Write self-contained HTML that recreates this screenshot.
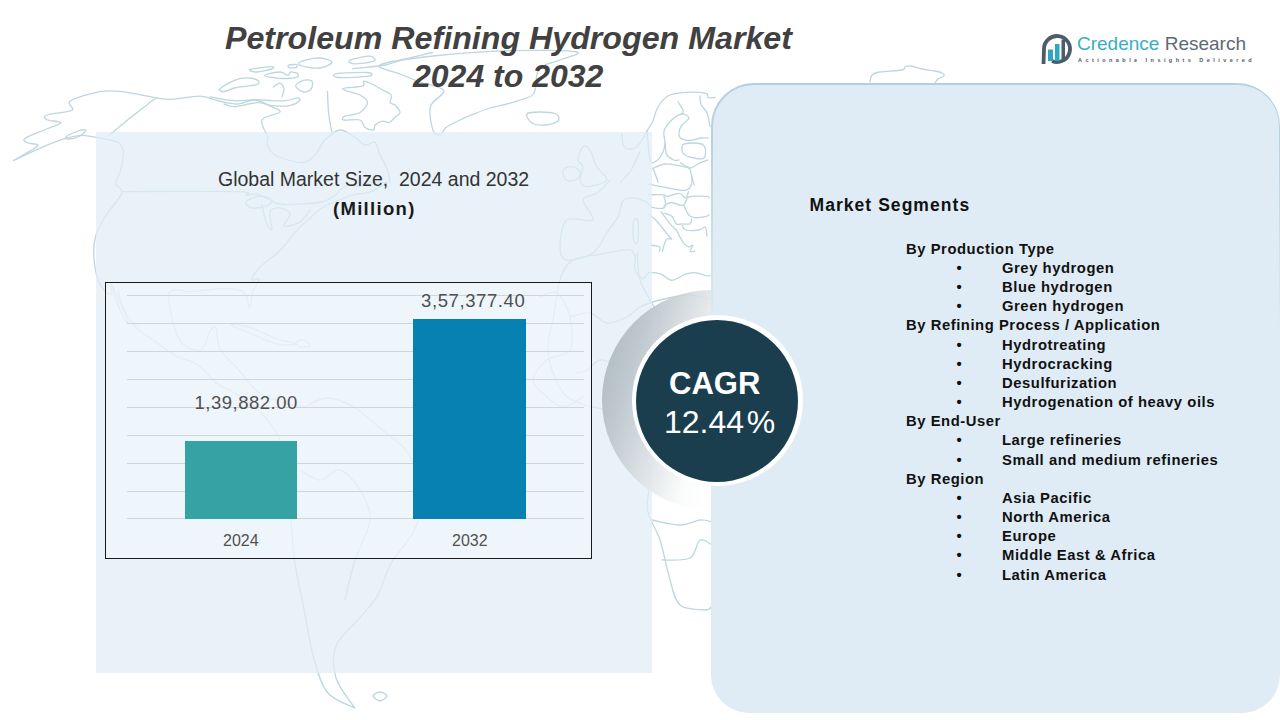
<!DOCTYPE html>
<html>
<head>
<meta charset="utf-8">
<style>
html,body{margin:0;padding:0;}
body{width:1280px;height:720px;position:relative;overflow:hidden;background:#ffffff;font-family:"Liberation Sans",sans-serif;}
.abs{position:absolute;white-space:nowrap;}
#leftpanel{position:absolute;left:96px;top:132px;width:556px;height:541px;background:rgba(225,237,246,0.72);}
#rightpanel{position:absolute;left:711px;top:82.5px;width:569px;height:630px;background:linear-gradient(to bottom,#b3cfe1 0%,#bad4e5 12%,#dfecf5 40%);border-radius:43px 43px 38px 38px;}
#rpin{position:absolute;left:1.5px;top:2px;right:1.5px;bottom:0;background:#dfecf5;border-radius:41px 41px 38px 38px;}
#map{position:absolute;left:0;top:0;}
.title{font-weight:bold;font-style:italic;color:#414141;font-size:31px;}
.seg{font-weight:bold;color:#111;font-size:14.8px;letter-spacing:0.55px;}
.chartbox{position:absolute;left:105px;top:282px;width:487px;height:277px;border:1.5px solid #1a1a1a;box-sizing:border-box;background:rgba(255,255,255,0.3);}
.grid{position:absolute;left:127px;width:457px;height:1px;background:#cfd6da;}
.bar{position:absolute;}
.lbl{color:#505050;font-size:18px;}
</style>
</head>
<body>
<svg id="map" width="1280" height="720" style="position:absolute;left:0;top:0" fill="none" stroke="#bdd6df" stroke-width="1.3" stroke-linejoin="round" stroke-linecap="round">
<path d="M13.8 160.3 C17.7 157.9 35.1 148.9 37.5 146.0 C39.9 143.1 30.1 144.3 28.0 143.0 C25.9 141.7 21.9 140.7 25.0 138.4 C28.1 136.1 40.9 131.6 46.9 129.0 C52.9 126.4 61.0 124.3 61.0 122.8 C61.0 121.2 49.2 121.0 46.9 119.7 C44.5 118.4 42.7 116.6 46.9 115.0 C51.1 113.4 68.0 112.6 71.9 110.3 C75.8 108.0 65.6 104.1 70.3 101.0 C75.0 97.9 91.4 93.2 100.0 91.6 C108.6 90.0 112.6 90.6 121.9 91.6 C131.2 92.6 147.7 96.5 156.0 97.8 C164.3 99.1 164.7 99.7 172.0 99.4 C179.3 99.1 192.2 96.0 200.0 96.2 C207.8 96.5 212.5 99.7 218.8 101.0 C225.0 102.3 231.5 104.2 237.5 104.0 C243.5 103.8 249.6 99.7 255.0 100.0 C260.4 100.3 265.8 104.0 270.0 106.0 C274.2 108.0 281.3 109.7 280.0 112.0 C278.7 114.3 264.0 115.8 262.0 120.0 C260.0 124.2 267.0 134.2 268.0 137.0"/>
<path d="M13.8 160.3 C18.2 158.2 32.0 151.5 40.6 147.8 C49.2 144.2 58.9 140.5 65.6 138.4 C72.3 136.3 76.3 135.6 81.0 135.3 C85.7 135.1 89.0 136.1 93.8 136.9 C98.5 137.7 105.2 139.0 109.4 140.0 C113.6 141.0 116.4 140.9 118.8 143.0 C121.1 145.1 123.1 147.8 123.4 152.5 C123.7 157.2 121.6 166.0 120.3 171.2 C119.0 176.5 115.3 180.1 115.6 183.8 C115.9 187.4 123.5 187.8 121.9 193.0 C120.3 198.2 110.6 208.0 106.2 215.0 C101.9 222.0 98.1 228.3 96.0 235.0 C93.9 241.7 93.4 247.5 93.8 255.0 C94.1 262.5 96.0 273.8 98.0 280.0 C100.0 286.2 103.7 289.5 106.0 292.0 C108.3 294.5 111.0 294.5 112.0 295.0"/>
<path d="M156.0 97.8 C151.7 101.2 137.8 111.8 130.0 118.0 C122.2 124.2 112.8 132.4 109.4 135.3"/>
<path d="M66.0 137.0 C67.3 135.7 74.7 132.2 78.0 131.0 C81.3 129.8 85.7 129.2 86.0 130.0 C86.3 130.8 82.7 134.5 80.0 136.0 C77.3 137.5 72.3 138.8 70.0 139.0 C67.7 139.2 64.7 138.3 66.0 137.0Z"/>
<path d="M121.9 191.6 C141.2 191.6 216.8 191.0 237.5 191.6 C258.2 192.2 242.9 194.6 246.0 195.0 C249.1 195.4 252.3 193.3 256.0 194.0 C259.7 194.7 264.0 197.3 268.0 199.0 C272.0 200.7 274.7 203.2 280.0 204.0 C285.3 204.8 293.0 204.3 300.0 204.0 C307.0 203.7 316.3 203.3 322.0 202.0 C327.7 200.7 330.0 198.7 334.0 196.0 C338.0 193.3 341.7 187.7 346.0 186.0 C350.3 184.3 355.7 186.7 360.0 186.0 C364.3 185.3 367.4 182.6 372.0 182.0 C376.6 181.4 384.9 182.4 387.5 182.5"/>
<path d="M246.0 202.0 C247.3 200.0 255.7 196.3 260.0 196.0 C264.3 195.7 271.0 198.3 272.0 200.0 C273.0 201.7 269.3 204.7 266.0 206.0 C262.7 207.3 255.3 208.7 252.0 208.0 C248.7 207.3 244.7 204.0 246.0 202.0Z"/>
<path d="M262.0 205.0 C262.7 207.8 264.3 217.8 266.0 222.0 C267.7 226.2 271.3 231.7 272.0 230.0 C272.7 228.3 268.7 215.7 270.0 212.0 C271.3 208.3 276.7 207.7 280.0 208.0 C283.3 208.3 289.3 211.0 290.0 214.0 C290.7 217.0 282.3 224.7 284.0 226.0 C285.7 227.3 295.7 224.7 300.0 222.0 C304.3 219.3 308.3 212.0 310.0 210.0"/>
<path d="M268.0 137.0 C267.9 138.3 266.8 142.4 267.5 145.0 C268.2 147.6 269.9 150.4 272.0 152.5 C274.1 154.6 274.9 155.8 280.0 157.5 C285.1 159.2 296.7 162.9 302.5 162.5 C308.3 162.1 311.2 158.8 315.0 155.0 C318.8 151.2 320.8 144.2 325.0 140.0 C329.2 135.8 335.0 130.4 340.0 130.0 C345.0 129.6 350.8 135.0 355.0 137.5 C359.2 140.0 361.7 144.2 365.0 145.0 C368.3 145.8 372.5 140.8 375.0 142.5 C377.5 144.2 377.9 150.4 380.0 155.0 C382.1 159.6 385.8 165.4 387.5 170.0 C389.2 174.6 389.6 180.4 390.0 182.5"/>
<path d="M387.5 182.5 C384.6 184.1 375.8 189.9 370.0 192.0 C364.2 194.1 358.3 193.3 352.5 195.0 C346.7 196.7 340.0 199.9 335.0 202.0 C330.0 204.1 326.7 204.8 322.5 207.5 C318.3 210.2 313.3 215.1 310.0 218.0 C306.7 220.9 305.5 222.0 302.5 225.0 C299.5 228.0 294.9 232.7 292.0 236.0 C289.1 239.3 287.8 241.8 285.0 245.0 C282.2 248.2 278.3 252.1 275.0 255.0 C271.7 257.9 268.2 259.7 265.0 262.5 C261.8 265.3 258.2 269.1 256.0 272.0 C253.8 274.9 251.5 278.8 252.0 280.0 C252.5 281.2 258.9 277.4 259.0 279.4 C259.1 281.3 254.4 286.8 252.8 291.7 C251.2 296.6 251.2 308.5 249.7 308.5 C248.2 308.5 248.2 295.0 243.6 291.7 C239.0 288.4 230.7 288.6 222.0 288.6 C213.3 288.6 200.4 291.2 191.7 291.7 C183.0 292.2 173.1 286.6 170.0 291.7 C166.9 296.8 170.9 313.4 173.0 322.0 C175.1 330.6 177.8 338.9 182.5 343.6 C187.2 348.3 196.4 352.1 201.0 350.0 C205.6 347.9 207.5 334.7 210.0 331.0 C212.5 327.3 214.5 325.4 216.0 328.0 C217.5 330.6 217.0 341.4 219.0 346.6 C221.0 351.8 225.5 355.9 228.0 359.0 C230.5 362.1 231.5 362.3 234.0 365.0 C236.5 367.7 239.0 370.5 243.0 375.0 C247.0 379.5 252.7 387.8 258.0 392.0 C263.3 396.2 267.3 397.4 275.0 400.0 C282.7 402.6 299.2 406.2 304.0 407.5"/>
<path d="M112.0 295.0 C112.0 293.4 110.0 283.0 112.0 285.5 C114.0 288.0 119.9 302.9 124.0 310.0 C128.1 317.1 131.4 322.7 136.7 328.0 C142.0 333.3 149.4 337.3 156.0 342.0 C162.6 346.7 169.0 352.2 176.0 356.0 C183.0 359.8 191.3 360.5 198.0 365.0 C204.7 369.5 211.0 378.9 216.0 383.0 C221.0 387.1 223.4 386.8 228.0 389.4 C232.6 392.0 238.6 395.2 243.6 398.6 C248.6 402.0 252.8 404.8 258.0 410.0 C263.2 415.2 270.3 421.7 275.0 430.0 C279.7 438.3 284.2 450.8 286.0 460.0 C287.8 469.2 285.2 475.9 286.0 485.5 C286.8 495.1 289.0 504.6 290.5 517.6 C292.0 530.6 292.8 548.3 295.0 563.5 C297.2 578.7 301.0 593.8 304.0 609.0 C307.0 624.2 309.2 641.2 313.0 655.0 C316.8 668.8 320.1 683.2 327.0 692.0 C333.9 700.8 350.1 705.3 354.7 708.0"/>
<path d="M112.0 285.5 C112.7 287.9 114.0 294.6 116.0 300.0 C118.0 305.4 122.0 314.3 124.0 318.0 C126.0 321.7 128.3 324.2 128.0 322.0 C127.7 319.8 123.7 310.3 122.0 305.0 C120.3 299.7 118.7 292.5 118.0 290.0"/>
<path d="M354.7 708.0 C351.6 703.0 339.1 688.3 336.0 678.0 C332.9 667.7 332.2 655.9 336.0 646.0 C339.8 636.1 352.1 626.9 359.0 618.5 C365.9 610.1 372.3 604.8 377.6 595.6 C382.9 586.4 384.9 574.3 391.0 563.5 C397.1 552.7 409.2 540.8 414.0 531.0 C418.8 521.2 419.8 515.2 420.0 505.0 C420.2 494.8 417.5 479.3 415.0 470.0 C412.5 460.7 411.2 456.3 405.0 449.0 C398.8 441.7 386.0 432.9 377.6 426.0 C369.2 419.1 363.1 412.2 354.7 407.5 C346.3 402.8 335.4 398.0 327.0 398.0 C318.6 398.0 307.8 405.9 304.0 407.5"/>
<path d="M300.0 470.0 C303.3 471.7 313.3 480.0 320.0 480.0 C326.7 480.0 333.3 468.3 340.0 470.0 C346.7 471.7 355.0 481.7 360.0 490.0 C365.0 498.3 370.8 508.3 370.0 520.0 C369.2 531.7 359.2 546.7 355.0 560.0 C350.8 573.3 346.7 593.3 345.0 600.0"/>
<path d="M373.0 696.0 C373.0 694.5 377.7 692.0 380.0 692.0 C382.3 692.0 387.0 694.5 387.0 696.0 C387.0 697.5 382.3 701.0 380.0 701.0 C377.7 701.0 373.0 697.5 373.0 696.0Z"/>
<path d="M231.0 325.0 C230.2 323.8 240.3 325.0 245.0 326.0 C249.7 327.0 254.5 329.2 259.0 331.0 C263.5 332.8 268.0 335.4 272.0 337.0 C276.0 338.6 279.1 339.4 283.0 340.5 C286.9 341.6 295.2 342.9 295.5 343.6 C295.8 344.4 289.2 345.3 285.0 345.0 C280.8 344.7 275.8 344.0 270.0 342.0 C264.2 340.0 256.5 335.8 250.0 333.0 C243.5 330.2 231.8 326.2 231.0 325.0Z"/>
<path d="M296.0 342.0 C296.7 340.8 301.7 339.3 304.0 340.0 C306.3 340.7 310.7 344.8 310.0 346.0 C309.3 347.2 302.3 347.7 300.0 347.0 C297.7 346.3 295.3 343.2 296.0 342.0Z"/>
<path d="M219.7 89.0 C221.3 87.1 229.8 82.1 234.3 80.3 C238.9 78.5 243.1 77.9 247.0 77.9 C250.9 77.9 255.9 79.2 257.7 80.3 C259.5 81.3 259.5 83.2 257.7 84.2 C255.9 85.2 250.9 85.5 247.0 86.1 C243.1 86.7 238.0 87.1 234.3 88.0 C230.6 88.9 227.0 91.3 224.6 91.5 C222.2 91.7 218.1 90.9 219.7 89.0Z"/>
<path d="M249.9 69.6 C252.2 68.7 266.6 66.9 270.3 66.7 C274.0 66.5 274.6 67.7 272.3 68.6 C270.0 69.5 260.4 71.8 256.7 72.0 C253.0 72.2 247.6 70.5 249.9 69.6Z"/>
<path d="M264.5 75.4 C264.5 74.4 276.1 72.0 280.0 72.0 C283.9 72.0 286.0 75.4 287.8 75.4 C289.6 75.4 289.1 72.3 290.7 72.0 C292.3 71.7 296.5 72.6 297.5 73.5 C298.5 74.4 299.5 76.6 296.6 77.4 C293.7 78.2 285.4 78.6 280.0 78.3 C274.6 78.0 264.5 76.5 264.5 75.4Z"/>
<path d="M288.8 65.0 C290.1 64.5 295.4 64.3 296.6 64.7 C297.8 65.1 297.3 67.1 296.0 67.6 C294.7 68.1 290.2 68.0 289.0 67.6 C287.8 67.2 287.5 65.5 288.8 65.0Z"/>
<path d="M210.0 96.8 C214.1 97.5 226.5 100.2 234.3 100.7 C242.1 101.2 250.4 99.7 256.7 99.7 C263.0 99.7 267.4 100.5 272.3 100.7 C277.2 100.9 281.7 101.2 285.9 100.7 C290.1 100.2 295.2 97.8 297.5 97.8 C299.8 97.8 300.8 99.4 299.5 100.7 C298.2 102.0 294.3 104.8 289.8 105.6 C285.3 106.4 277.8 106.1 272.3 105.6 C266.8 105.1 263.0 102.5 256.7 102.7 C250.4 102.9 239.8 106.4 234.3 106.6 C228.9 106.8 225.7 104.4 224.0 104.0"/>
<path d="M295.6 86.1 C295.6 84.1 300.7 81.1 303.4 80.3 C306.1 79.5 310.7 79.8 312.0 81.3 C313.3 82.8 312.4 87.2 311.0 89.0 C309.6 90.8 306.0 92.5 303.4 92.0 C300.8 91.5 295.6 88.0 295.6 86.1Z"/>
<path d="M273.2 87.1 C274.3 86.4 278.2 82.9 280.0 83.2 C281.8 83.5 283.7 86.7 284.0 89.0 C284.3 91.3 282.3 95.5 282.0 96.8"/>
<path d="M342.5 88.8 C342.1 90.2 355.8 92.7 360.0 95.0 C364.2 97.3 367.5 99.6 367.5 102.5 C367.5 105.4 363.8 110.2 360.0 112.5 C356.2 114.8 347.7 115.0 345.0 116.2 C342.3 117.5 341.2 119.4 343.8 120.0 C346.2 120.6 356.5 118.8 360.0 120.0 C363.5 121.2 362.7 125.8 365.0 127.5 C367.3 129.2 372.1 130.4 373.8 130.0 C375.4 129.6 373.5 126.5 375.0 125.0 C376.5 123.5 380.2 121.7 382.5 121.2 C384.8 120.8 386.7 123.1 388.8 122.5 C390.8 121.9 393.1 119.2 395.0 117.5 C396.9 115.8 400.0 114.6 400.0 112.5 C400.0 110.4 396.7 106.7 395.0 105.0 C393.3 103.3 390.6 104.2 390.0 102.5 C389.4 100.8 392.5 97.1 391.2 95.0 C390.0 92.9 385.4 91.7 382.5 90.0 C379.6 88.3 376.9 86.5 373.8 85.0 C370.6 83.5 365.6 81.0 363.8 81.2 C361.9 81.5 366.0 85.0 362.5 86.2 C359.0 87.5 342.9 87.3 342.5 88.8Z"/>
<path d="M350.0 60.0 C352.7 58.8 366.0 56.0 370.0 56.2 C374.0 56.5 376.5 60.0 373.8 61.2 C371.0 62.5 357.7 64.0 353.8 63.8 C349.8 63.5 347.3 61.2 350.0 60.0Z"/>
<path d="M352.5 68.8 C357.9 68.1 376.9 66.5 385.0 65.0 C393.1 63.5 393.3 62.1 401.2 60.0 C409.2 57.9 427.3 53.8 432.5 52.5"/>
<path d="M336.2 73.8 C341.0 72.9 362.1 72.1 367.5 72.5 C372.9 72.9 373.5 75.4 368.8 76.2 C364.0 77.1 344.2 77.9 338.8 77.5 C333.3 77.1 331.5 74.6 336.2 73.8Z"/>
<path d="M300.0 62.0 C302.7 60.7 312.7 58.0 318.0 58.0 C323.3 58.0 331.7 60.3 332.0 62.0 C332.3 63.7 325.0 67.3 320.0 68.0 C315.0 68.7 305.3 67.0 302.0 66.0 C298.7 65.0 297.3 63.3 300.0 62.0Z"/>
<path d="M327.5 91.2 C327.7 95.2 327.9 107.7 328.8 115.0 C329.6 122.3 331.9 131.7 332.5 135.0"/>
<path d="M380.0 65.0 C385.5 62.0 410.8 58.4 433.0 56.0 C455.2 53.6 489.1 51.3 513.0 50.6 C536.9 49.9 568.7 50.4 576.5 52.0 C584.3 53.6 566.2 57.2 560.0 60.0 C553.8 62.8 543.3 63.5 539.0 69.0 C534.7 74.5 537.2 87.8 534.0 93.0 C530.8 98.2 524.4 98.2 520.0 100.0 C515.6 101.8 512.5 102.4 507.5 103.8 C502.5 105.1 495.8 106.2 490.0 108.0 C484.2 109.8 478.0 112.4 473.0 114.4 C468.0 116.4 464.5 117.8 460.0 120.0 C455.5 122.2 449.3 125.1 446.0 127.6 C442.7 130.1 442.2 134.6 440.0 135.0 C437.8 135.4 434.6 135.1 433.0 130.3 C431.4 125.5 428.7 113.0 430.5 106.4 C432.3 99.8 445.5 94.6 443.8 90.5 C442.0 86.4 427.3 84.8 420.0 82.0 C412.7 79.2 406.7 76.8 400.0 74.0 C393.3 71.2 374.5 68.0 380.0 65.0Z"/>
<path d="M527.0 114.0 C528.3 112.2 535.2 112.0 540.0 112.0 C544.8 112.0 553.0 112.5 556.0 114.0 C559.0 115.5 559.8 119.2 558.0 121.0 C556.2 122.8 549.3 124.7 545.0 125.0 C540.7 125.3 535.0 124.8 532.0 123.0 C529.0 121.2 525.7 115.8 527.0 114.0Z"/>
<path d="M583.0 146.7 C585.0 145.0 587.7 146.7 590.0 150.0 C592.3 153.3 593.9 161.7 596.7 166.7 C599.5 171.7 608.4 176.7 606.7 180.0 C605.0 183.3 591.2 186.7 586.7 186.7 C582.2 186.7 580.6 183.3 580.0 180.0 C579.4 176.7 583.3 170.0 583.0 166.7 C582.7 163.4 578.0 163.3 578.0 160.0 C578.0 156.7 581.0 148.4 583.0 146.7Z"/>
<path d="M563.0 170.0 C564.0 167.8 569.2 166.4 572.0 166.7 C574.8 167.0 579.3 169.8 580.0 172.0 C580.7 174.2 578.3 178.7 576.0 180.0 C573.7 181.3 568.2 181.7 566.0 180.0 C563.8 178.3 562.0 172.2 563.0 170.0Z"/>
<path d="M540.0 297.0 C542.8 296.3 552.0 289.7 557.0 293.0 C562.0 296.3 567.8 307.5 570.0 317.0 C572.2 326.5 573.8 342.8 570.0 350.0 C566.2 357.2 553.2 355.0 547.0 360.0 C540.8 365.0 533.0 373.8 533.0 380.0 C533.0 386.2 542.0 392.5 547.0 397.0 C552.0 401.5 557.0 407.0 563.0 407.0 C569.0 407.0 579.7 398.7 583.0 397.0"/>
<path d="M570.0 317.0 C573.3 316.3 583.8 312.0 590.0 313.0 C596.2 314.0 600.8 322.3 607.0 323.0 C613.2 323.7 621.5 319.7 627.0 317.0 C632.5 314.3 634.5 309.8 640.0 307.0 C645.5 304.2 651.7 302.0 660.0 300.0 C668.3 298.0 681.3 295.0 690.0 295.0 C698.7 295.0 708.3 299.2 712.0 300.0"/>
<path d="M577.0 373.0 C578.7 372.5 583.2 372.2 587.0 370.0 C590.8 367.8 595.3 360.8 600.0 360.0 C604.7 359.2 608.3 361.7 615.0 365.0 C621.7 368.3 635.8 377.5 640.0 380.0"/>
<path d="M637.0 253.0 C637.5 257.5 637.8 272.2 640.0 280.0 C642.2 287.8 646.7 293.3 650.0 300.0 C653.3 306.7 659.2 312.5 660.0 320.0 C660.8 327.5 655.8 340.8 655.0 345.0"/>
<path d="M622.0 133.6 C622.3 135.7 621.9 143.4 623.6 146.0 C625.3 148.6 629.3 149.5 632.0 149.0 C634.7 148.5 637.5 146.0 640.0 143.0 C642.5 140.0 644.9 134.7 647.0 131.0 C649.1 127.3 651.0 125.0 652.8 121.0 C654.6 117.0 655.5 111.2 658.0 107.0 C660.5 102.8 663.8 98.4 668.0 96.0 C672.2 93.6 676.7 93.0 683.0 92.6 C689.3 92.1 701.4 92.5 705.6 93.3 C709.8 94.1 706.4 96.8 708.0 97.5 C709.6 98.2 713.8 97.5 715.0 97.5"/>
<path d="M647.0 131.0 C647.5 135.8 648.6 154.9 650.0 160.0 C651.4 165.1 653.5 162.6 655.6 161.4 C657.7 160.2 660.9 156.1 662.5 153.0 C664.1 149.9 664.8 146.7 665.0 143.0 C665.2 139.3 662.8 134.9 664.0 131.0 C665.2 127.1 669.0 122.5 672.0 119.7 C675.0 116.9 679.2 114.3 682.0 114.0 C684.8 113.7 689.0 116.2 689.0 118.0 C689.0 119.8 683.7 122.7 682.0 125.0 C680.3 127.3 679.2 129.8 679.0 132.0 C678.8 134.2 678.7 136.6 680.5 138.0 C682.3 139.4 686.6 140.5 690.0 140.5 C693.4 140.5 698.0 138.4 701.0 138.0 C704.0 137.6 706.8 138.0 708.0 138.0"/>
<path d="M678.0 101.7 C678.8 103.1 682.3 108.0 683.0 110.0 C683.7 112.0 682.2 113.3 682.0 114.0"/>
<path d="M700.0 96.0 C700.2 97.4 699.8 101.6 701.0 104.4 C702.2 107.2 705.5 109.1 707.0 112.8 C708.5 116.5 709.5 124.4 710.0 126.7"/>
<path d="M665.0 143.0 C665.3 144.9 665.3 151.6 666.7 154.4 C668.1 157.2 671.6 159.1 673.6 160.0 C675.6 160.9 678.1 160.0 679.0 160.0"/>
<path d="M683.0 144.7 C684.8 143.0 690.7 143.0 694.0 143.0 C697.3 143.0 701.1 143.2 703.0 144.7 C704.9 146.1 705.6 149.4 705.6 151.7 C705.6 154.0 705.6 157.7 703.0 158.6 C700.4 159.5 693.3 157.9 690.0 157.0 C686.7 156.1 684.2 155.1 683.0 153.0 C681.8 150.9 681.2 146.4 683.0 144.7Z"/>
<path d="M680.5 162.8 C682.1 163.7 686.8 168.0 690.0 168.0 C693.2 168.0 697.0 164.1 700.0 162.8 C703.0 161.5 706.7 160.5 708.0 160.0"/>
<path d="M652.8 168.3 C653.3 169.4 654.7 172.7 655.6 175.0 C656.5 177.3 657.6 180.8 658.0 182.0"/>
<path d="M652.8 168.3 C654.8 167.6 660.8 164.4 665.0 164.0 C669.2 163.6 674.0 164.9 678.0 165.6 C682.0 166.3 686.7 166.5 689.0 168.3 C691.3 170.2 690.8 173.9 691.7 176.7 C692.6 179.5 694.0 183.6 694.4 185.0"/>
<path d="M640.0 151.7 C639.3 153.1 637.6 156.8 636.0 160.0 C634.4 163.2 633.1 167.3 630.6 171.0 C628.1 174.7 622.4 180.2 620.8 182.0"/>
<path d="M648.9 184.2 C651.4 184.7 660.2 186.4 664.0 187.2 C667.8 187.9 668.2 188.2 671.8 188.7 C675.4 189.2 682.2 191.1 685.5 190.3 C688.8 189.6 690.6 186.8 691.6 184.2 C692.6 181.6 691.6 176.5 691.6 175.0"/>
<path d="M648.9 194.8 C651.4 194.8 661.0 194.5 664.0 194.8 C667.0 195.1 664.4 196.7 667.0 196.4 C669.6 196.2 676.3 193.0 679.4 193.3 C682.5 193.6 684.0 198.2 685.5 198.0 C687.0 197.8 688.0 192.8 688.5 191.8"/>
<path d="M687.0 198.0 C687.8 197.7 688.3 196.7 691.6 196.4 C694.9 196.1 704.0 196.1 706.9 196.4 C709.8 196.7 708.6 197.7 709.0 198.0"/>
<path d="M650.4 207.0 C652.2 207.3 658.5 208.8 661.0 208.6 C663.5 208.3 665.1 207.5 665.6 205.5 C666.1 203.5 664.3 197.9 664.0 196.4"/>
<path d="M664.0 205.5 C665.3 205.0 668.7 202.5 671.8 202.5 C674.9 202.5 679.9 206.0 682.4 205.5 C684.9 205.0 686.2 200.4 687.0 199.4"/>
<path d="M684.0 205.5 C684.8 207.0 686.7 212.7 688.5 214.7 C690.3 216.7 691.6 217.4 694.7 217.7 C697.8 217.9 704.6 216.7 707.0 216.2 C709.4 215.7 708.7 214.9 709.0 214.7"/>
<path d="M664.0 213.2 C665.3 213.7 669.8 214.4 671.8 216.2 C673.8 218.0 674.5 222.6 676.3 223.9 C678.1 225.2 680.1 223.9 682.4 223.9 C684.7 223.9 688.5 224.7 690.0 223.9 C691.5 223.1 691.3 220.1 691.6 219.3"/>
<path d="M682.4 225.4 C682.9 226.2 682.7 229.2 685.5 230.0 C688.3 230.8 695.9 230.5 699.2 230.0 C702.5 229.5 704.0 226.0 705.3 227.0 C706.6 228.0 706.7 234.5 707.0 236.0"/>
<path d="M679.4 236.0 C680.2 237.3 682.5 241.9 684.0 243.7 C685.5 245.5 687.0 246.6 688.5 246.8 C690.0 247.1 692.8 244.4 693.0 245.2 C693.2 245.9 689.7 250.3 690.0 251.3 C690.3 252.3 693.9 251.3 694.7 251.3"/>
<path d="M648.9 214.7 C650.2 215.7 654.0 218.2 656.5 220.8 C659.0 223.4 662.0 227.5 664.0 230.0 C666.0 232.5 667.4 234.5 668.7 236.0 C670.0 237.5 672.1 238.5 671.8 239.0 C671.5 239.5 668.3 238.0 667.0 239.0 C665.7 240.0 664.7 243.1 664.0 245.2 C663.3 247.2 662.8 250.3 662.6 251.3"/>
<path d="M661.0 211.6 C662.5 213.7 667.5 220.8 670.0 223.9 C672.5 227.0 674.7 228.0 676.3 230.0 C677.9 232.0 678.9 235.0 679.4 236.0"/>
<path d="M650.4 245.2 C651.9 245.5 658.0 245.8 659.5 246.8 C661.0 247.8 659.5 250.6 659.5 251.3"/>
<path d="M634.0 220.0 C634.8 218.5 637.3 217.5 638.0 221.0 C638.7 224.5 638.7 237.5 638.0 241.0 C637.3 244.5 634.8 243.8 634.0 242.0 C633.2 240.2 633.0 233.7 633.0 230.0 C633.0 226.3 633.2 221.5 634.0 220.0Z"/>
<path d="M610.0 180.0 C607.8 182.2 601.2 190.0 596.7 193.3 C592.2 196.6 583.6 195.6 583.0 200.0 C582.4 204.4 595.7 216.7 593.0 220.0 C590.3 223.3 572.2 215.6 566.7 220.0 C561.2 224.4 560.0 240.0 560.0 246.7 C560.0 253.4 561.2 258.9 566.7 260.0 C572.2 261.1 586.3 257.5 593.0 253.0 C599.7 248.5 602.5 239.1 606.7 233.0 C610.9 226.9 615.6 221.5 618.3 216.2 C621.0 210.9 620.6 204.1 622.9 201.0 C625.2 197.9 628.4 197.9 632.0 197.9 C635.6 197.9 641.2 199.7 644.3 201.0 C647.4 202.3 649.4 204.8 650.4 205.5"/>
<path d="M553.0 320.0 C554.2 313.3 556.7 290.0 560.0 280.0 C563.3 270.0 566.3 264.3 573.0 260.0 C579.7 255.7 593.0 255.8 600.0 254.4 C607.0 253.0 610.2 252.1 615.3 251.3 C620.4 250.5 627.2 248.8 630.5 249.8 C633.8 250.8 634.2 254.1 635.0 257.4 C635.8 260.7 633.7 266.1 635.0 269.7 C636.3 273.3 640.4 278.3 642.7 278.8 C645.0 279.3 645.9 273.5 648.9 272.7 C651.9 271.9 657.2 272.9 661.0 274.2 C664.8 275.5 667.7 280.3 671.8 280.3 C675.9 280.3 681.7 275.5 685.5 274.2 C689.3 272.9 691.1 272.4 694.7 272.7 C698.3 273.0 704.1 275.4 707.0 275.8 C709.9 276.2 711.2 275.1 712.0 275.0"/>
<path d="M553.0 320.0 C552.2 324.2 548.2 336.7 548.0 345.0 C547.8 353.3 549.2 361.7 552.0 370.0 C554.8 378.3 559.5 389.2 565.0 395.0 C570.5 400.8 578.3 402.5 585.0 405.0 C591.7 407.5 598.8 407.5 605.0 410.0 C611.2 412.5 616.2 415.0 622.0 420.0 C627.8 425.0 635.3 430.8 640.0 440.0 C644.7 449.2 648.8 463.3 650.0 475.0 C651.2 486.7 645.8 499.2 647.5 510.0 C649.2 520.8 656.2 528.3 660.0 540.0 C663.8 551.7 666.7 569.2 670.0 580.0 C673.3 590.8 674.2 600.0 680.0 605.0 C685.8 610.0 699.7 609.8 705.0 610.0 C710.3 610.2 710.8 606.7 712.0 606.0"/>
<path d="M652.0 520.0 C656.7 520.8 672.0 525.0 680.0 525.0 C688.0 525.0 694.7 520.5 700.0 520.0 C705.3 519.5 710.0 521.7 712.0 522.0"/>
<path d="M662.0 560.0 C666.7 559.7 683.7 561.3 690.0 558.0 C696.3 554.7 696.3 542.2 700.0 540.0 C703.7 537.8 710.0 544.2 712.0 545.0"/>
<path d="M870.0 82.0 C870.3 80.8 870.3 76.7 872.0 75.0 C873.7 73.3 875.0 72.8 880.0 72.0 C885.0 71.2 897.8 70.8 902.0 70.0 C906.2 69.2 903.5 67.7 905.0 67.0 C906.5 66.3 908.2 65.7 911.0 66.0 C913.8 66.3 918.0 68.2 922.0 69.0 C926.0 69.8 931.7 70.3 935.0 71.0 C938.3 71.7 940.5 72.2 942.0 73.0 C943.5 73.8 944.7 75.0 944.0 76.0 C943.3 77.0 939.5 77.8 938.0 79.0 C936.5 80.2 935.5 82.3 935.0 83.0"/>
</svg>
<div id="leftpanel"></div>
<div class="abs" style="left:602px;top:290px;width:220px;height:220px;border-radius:50%;background:linear-gradient(108deg,rgba(163,176,184,0.92) 0%,rgba(186,196,202,0.92) 18%,rgba(222,227,230,0.92) 36%,rgba(250,251,251,0.92) 50%,rgba(255,255,255,0.9) 60%);"></div>
<div id="rightpanel"><div id="rpin"></div></div>

<!-- Title -->
<div class="abs title" id="t1" style="left:225px;top:19.8px;font-size:32.2px;">Petroleum Refining Hydrogen Market</div>
<div class="abs title" id="t2" style="left:413px;top:58px;font-size:32px;">2024 to 2032</div>

<!-- Logo -->
<svg class="abs" style="left:1040px;top:32px" width="36" height="36" viewBox="0 0 36 36">
  <path d="M3.5 32 L4 17 A13 13 0 1 1 12 29" fill="none" stroke="#4d5c6b" stroke-width="3.8" stroke-linejoin="round"/>
  <rect x="8" y="17.5" width="5" height="11.5" fill="#2ea8c2"/>
  <rect x="15" y="12" width="4.5" height="17" fill="#2ea8c2"/>
  <rect x="21.5" y="7.5" width="3.5" height="22" fill="#4d5c6b"/>
</svg>
<div class="abs" id="logo1" style="left:1077px;top:33px;font-size:19px;color:#37aec2;">Credence <span style="color:#5d6a75">Research</span></div>
<div class="abs" id="logo2" style="left:1078px;top:56.5px;font-size:5.5px;font-weight:bold;color:#4f5861;letter-spacing:3.45px;">Actionable Insights Delivered</div>

<!-- Left chart text -->
<div class="abs" id="gm" style="left:218px;top:167.5px;font-size:19.5px;color:#333333;">Global Market Size,&nbsp; 2024 and 2032</div>
<div class="abs" id="mil" style="left:333px;top:197.5px;font-size:18.5px;letter-spacing:1.3px;font-weight:bold;color:#1a1a1a;">(Million)</div>

<div class="chartbox"></div>
<div class="grid" style="top:295px"></div>
<div class="grid" style="top:323px"></div>
<div class="grid" style="top:351px"></div>
<div class="grid" style="top:379px"></div>
<div class="grid" style="top:407px"></div>
<div class="grid" style="top:435px"></div>
<div class="grid" style="top:463px"></div>
<div class="grid" style="top:491px"></div>
<div class="grid" style="top:518px"></div>
<div class="bar" style="left:185px;top:441px;width:112px;height:78px;background:#36a2a3;"></div>
<div class="bar" style="left:413px;top:319px;width:113px;height:200px;background:#0781b2;"></div>
<div class="abs lbl" id="v1" style="left:194.5px;top:391.5px;font-size:18.5px;letter-spacing:0.5px;">1,39,882.00</div>
<div class="abs lbl" id="v2" style="left:421px;top:289.7px;font-size:18.5px;letter-spacing:0.6px;">3,57,377.40</div>
<div class="abs lbl" id="y1" style="left:223px;top:532px;font-size:16px;">2024</div>
<div class="abs lbl" id="y2" style="left:452px;top:532px;font-size:16px;">2032</div>

<!-- CAGR -->
<div class="abs" style="left:631.5px;top:315px;width:171px;height:171px;border-radius:50%;background:#ffffff;"></div>
<div class="abs" style="left:636px;top:319.5px;width:162px;height:162px;border-radius:50%;background:#1b3e4e;"></div>
<div class="abs" id="cagr" style="left:669px;top:365.5px;font-size:31px;font-weight:bold;color:#fff;">CAGR</div>
<div class="abs" id="pct" style="left:664px;top:403.5px;font-size:32px;color:#fff;letter-spacing:0px;">12.44<span style="letter-spacing:0">&#8202;</span>%</div>

<!-- Segments -->
<div class="abs seg" id="ms" style="left:809.5px;top:194.6px;font-size:17.5px;letter-spacing:1.05px;">Market Segments</div>
<div id="list">
<div class="abs seg" style="left:906px;top:240.8px;">By Production Type</div>
<div class="abs seg" style="left:956.5px;top:260.0px;">&#8226;</div>
<div class="abs seg" style="left:1002px;top:260.0px;">Grey hydrogen</div>
<div class="abs seg" style="left:956.5px;top:279.1px;">&#8226;</div>
<div class="abs seg" style="left:1002px;top:279.1px;">Blue hydrogen</div>
<div class="abs seg" style="left:956.5px;top:298.3px;">&#8226;</div>
<div class="abs seg" style="left:1002px;top:298.3px;">Green hydrogen</div>
<div class="abs seg" style="left:906px;top:317.4px;">By Refining Process / Application</div>
<div class="abs seg" style="left:956.5px;top:336.6px;">&#8226;</div>
<div class="abs seg" style="left:1002px;top:336.6px;">Hydrotreating</div>
<div class="abs seg" style="left:956.5px;top:355.8px;">&#8226;</div>
<div class="abs seg" style="left:1002px;top:355.8px;">Hydrocracking</div>
<div class="abs seg" style="left:956.5px;top:374.9px;">&#8226;</div>
<div class="abs seg" style="left:1002px;top:374.9px;">Desulfurization</div>
<div class="abs seg" style="left:956.5px;top:394.1px;">&#8226;</div>
<div class="abs seg" style="left:1002px;top:394.1px;">Hydrogenation of heavy oils</div>
<div class="abs seg" style="left:906px;top:413.2px;">By End-User</div>
<div class="abs seg" style="left:956.5px;top:432.4px;">&#8226;</div>
<div class="abs seg" style="left:1002px;top:432.4px;">Large refineries</div>
<div class="abs seg" style="left:956.5px;top:451.6px;">&#8226;</div>
<div class="abs seg" style="left:1002px;top:451.6px;">Small and medium refineries</div>
<div class="abs seg" style="left:906px;top:470.7px;">By Region</div>
<div class="abs seg" style="left:956.5px;top:489.9px;">&#8226;</div>
<div class="abs seg" style="left:1002px;top:489.9px;">Asia Pacific</div>
<div class="abs seg" style="left:956.5px;top:509.0px;">&#8226;</div>
<div class="abs seg" style="left:1002px;top:509.0px;">North America</div>
<div class="abs seg" style="left:956.5px;top:528.2px;">&#8226;</div>
<div class="abs seg" style="left:1002px;top:528.2px;">Europe</div>
<div class="abs seg" style="left:956.5px;top:547.4px;">&#8226;</div>
<div class="abs seg" style="left:1002px;top:547.4px;">Middle East &amp; Africa</div>
<div class="abs seg" style="left:956.5px;top:566.5px;">&#8226;</div>
<div class="abs seg" style="left:1002px;top:566.5px;">Latin America</div>
</div>
</body>
</html>
